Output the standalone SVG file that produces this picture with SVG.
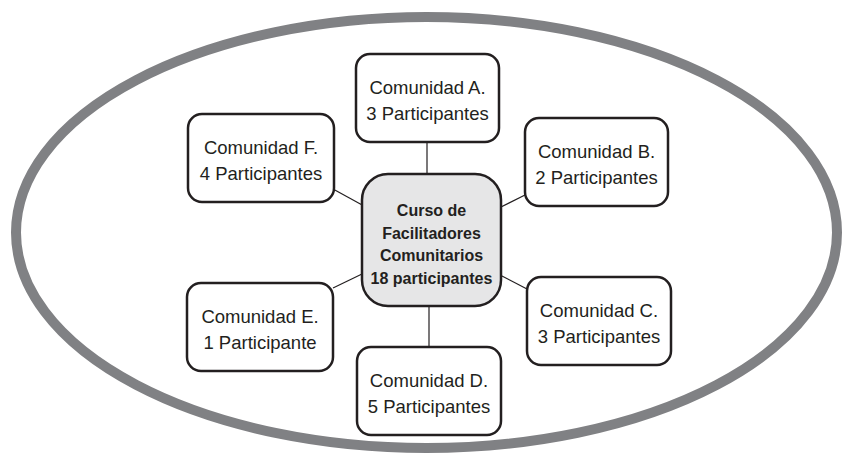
<svg xmlns="http://www.w3.org/2000/svg" width="842" height="453" viewBox="0 0 842 453">
<style>
.box{fill:#ffffff;stroke:#231f20;stroke-width:2.5}
.hub{fill:#e6e6e7;stroke:#231f20;stroke-width:2.5}
.t{font-family:"Liberation Sans",Arial,sans-serif;font-size:18.5px;fill:#231f20;text-anchor:middle}
.tb{font-family:"Liberation Sans",Arial,sans-serif;font-size:16px;font-weight:bold;fill:#231f20;text-anchor:middle}
.c{stroke:#231f20;stroke-width:1.2;fill:none}
</style>
<rect width="842" height="453" fill="#ffffff"/>
<ellipse cx="426.5" cy="232.5" rx="410.5" ry="215.5" fill="none" stroke="#808184" stroke-width="10"/>
<g id="connectors">
<line class="c" x1="427" y1="142" x2="427" y2="174"/>
<line class="c" x1="333" y1="189" x2="364" y2="206"/>
<line class="c" x1="499" y1="208" x2="525" y2="195"/>
<line class="c" x1="362" y1="274" x2="333" y2="288"/>
<line class="c" x1="500" y1="275" x2="527" y2="289"/>
<line class="c" x1="429" y1="306" x2="429" y2="347"/>
</g>
<g id="hub">
<rect class="hub" x="362" y="174" width="139" height="132" rx="26"/>
<text class="tb" x="431.5" y="216">Curso de</text>
<text class="tb" x="431.5" y="238.5">Facilitadores</text>
<text class="tb" x="431.5" y="261">Comunitarios</text>
<text class="tb" x="431.5" y="283.5">18 participantes</text>
</g>
<g id="nodeA">
<rect class="box" x="356" y="54" width="143" height="88" rx="14"/>
<text class="t" x="427.5" y="94">Comunidad A.</text>
<text class="t" x="427.5" y="120">3 Participantes</text>
</g>
<g id="nodeB">
<rect class="box" x="525" y="118" width="143" height="88" rx="14"/>
<text class="t" x="596.5" y="158">Comunidad B.</text>
<text class="t" x="596.5" y="184">2 Participantes</text>
</g>
<g id="nodeC">
<rect class="box" x="527" y="277" width="144" height="88" rx="14"/>
<text class="t" x="599" y="317">Comunidad C.</text>
<text class="t" x="599" y="343">3 Participantes</text>
</g>
<g id="nodeD">
<rect class="box" x="357" y="347" width="144" height="88" rx="14"/>
<text class="t" x="429" y="387">Comunidad D.</text>
<text class="t" x="429" y="413">5 Participantes</text>
</g>
<g id="nodeE">
<rect class="box" x="187" y="283" width="146" height="88" rx="14"/>
<text class="t" x="260" y="323">Comunidad E.</text>
<text class="t" x="260" y="349">1 Participante</text>
</g>
<g id="nodeF">
<rect class="box" x="188" y="114" width="146" height="88" rx="14"/>
<text class="t" x="261" y="154">Comunidad F.</text>
<text class="t" x="261" y="180">4 Participantes</text>
</g>
</svg>
